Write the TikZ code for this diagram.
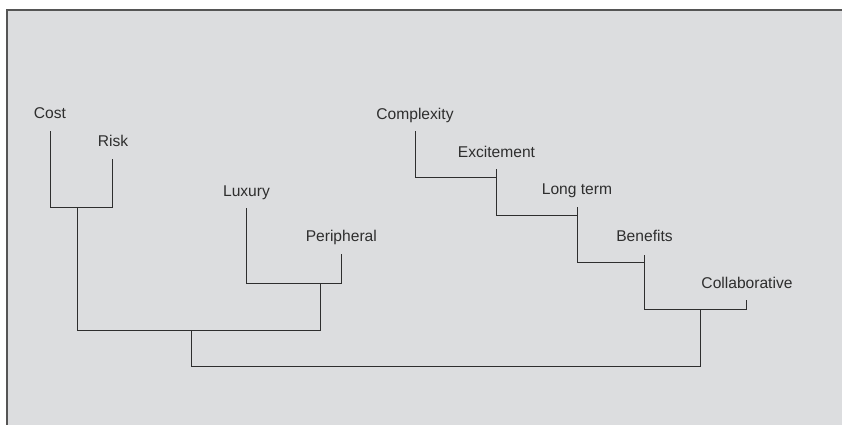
\documentclass[tikz,border=0pt]{standalone}
\usepackage{fontspec}
\setmainfont{Liberation Sans}
\definecolor{bg}{HTML}{DCDDDF}
\definecolor{ink}{HTML}{2E2E2E}
\definecolor{frame}{HTML}{555555}
\begin{document}
\begin{tikzpicture}[x=1pt,y=-1pt,
  lbl/.style={anchor=base,inner sep=0pt,outer sep=0pt,text=ink,font=\fontsize{15.6}{18}\selectfont},
  tree/.style={draw=ink,line width=1.6pt,line cap=rect,line join=miter}]
\useasboundingbox (0,0) rectangle (842,425);
\fill[bg] (6.5,10) rectangle (842,425);
\draw[frame,line width=2pt] (6.5,425) -- (6.5,10) -- (842,10);
% labels
\node[lbl] (cost) at (50,118.3) {Cost};
\node[lbl] (risk) at (113,146.7) {Risk};
\node[lbl] (lux) at (246.5,196.7) {Luxury};
\node[lbl] (peri) at (341.3,241) {Peripheral};
\node[lbl] (cplx) at (415,120) {Complexity};
\node[lbl] (exc) at (496.5,157.3) {Excitement};
\node[lbl] (long) at (577,194.3) {Long term};
\node[lbl] (ben) at (644.5,241) {Benefits};
\node[lbl] (coll) at (747,288.3) {Collaborative};
% line tops
\coordinate (costT) at (50.5,132);
\coordinate (riskT) at (112.5,160);
\coordinate (luxT) at (246.5,208.5);
\coordinate (periT) at (341.5,255);
\coordinate (cplxT) at (415.5,131.5);
\coordinate (excT) at (496.5,170);
\coordinate (longT) at (577.5,207.5);
\coordinate (benT) at (644.5,255.5);
\coordinate (collT) at (746.5,301);
% joins
\coordinate (j1) at (77.5,207.5);
\coordinate (j2) at (320.5,283.5);
\coordinate (j3) at (191.5,330.5);
\coordinate (j4) at (700.5,309.5);
% left cluster
\draw[tree] (costT) -- (costT |- j1) -- (riskT |- j1) -- (riskT);
\draw[tree] (j1) -- (j1 |- j3);
\draw[tree] (luxT) -- (luxT |- j2) -- (periT |- j2) -- (periT);
\draw[tree] (j2) -- (j2 |- j3);
\draw[tree] (j1 |- j3) -- (j2 |- j3);
% right chain
\draw[tree] (cplxT) -- (cplxT |- 0,177.5) -- (excT |- 0,177.5);
\draw[tree] (excT) -- (excT |- 0,215.5) -- (longT |- 0,215.5);
\draw[tree] (longT) -- (longT |- 0,262.5) -- (benT |- 0,262.5);
\draw[tree] (benT) -- (benT |- j4) -- (collT |- j4) -- (collT);
% root
\draw[tree] (j3) -- (j3 |- 0,366.5) -- (j4 |- 0,366.5) -- (j4);
\end{tikzpicture}
\end{document}
